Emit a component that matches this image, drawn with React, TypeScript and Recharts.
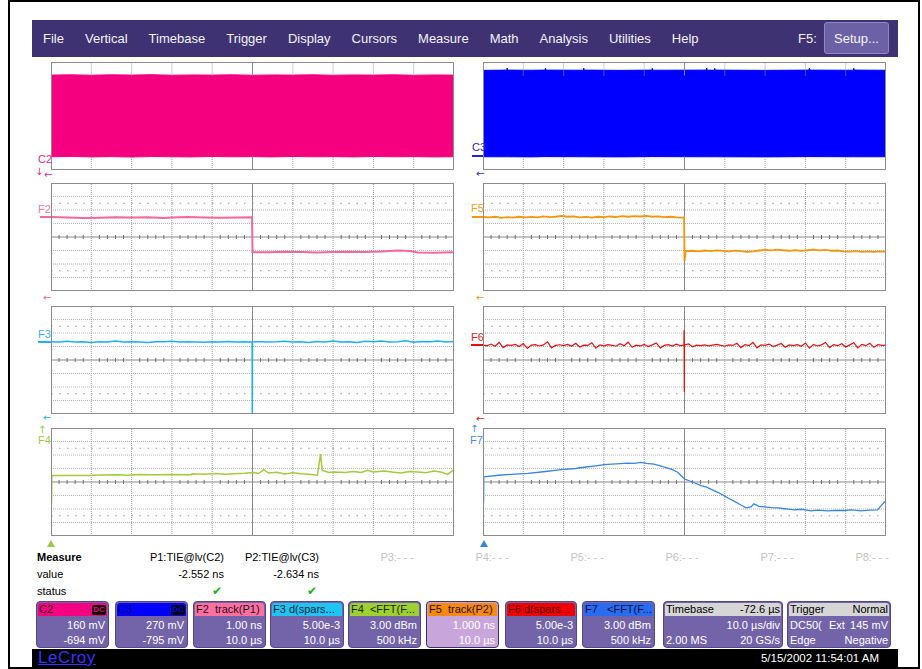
import React from 'react';
import { ComposedChart, Line, Area, XAxis, YAxis, ReferenceLine } from 'recharts';

const FONT = '"Liberation Sans", Arial, Helvetica, sans-serif';
const PW = 403;
const PH = 108;

// ---------------- data (x in divisions 0..10, y in divisions -4..4) ----------------
const C2_BAND: number[][] = [
  [0, -3.02, 3.03], [0.5, -3.0, 3.05], [1, -3.03, 3.02], [1.5, -3.01, 3.05], [2, -3.04, 3.03],
  [2.5, -3.0, 3.06], [3, -3.02, 3.02], [3.5, -3.03, 3.04], [4, -3.0, 3.03], [4.5, -3.02, 3.05],
  [5, -3.01, 3.02], [5.5, -3.03, 3.04], [6, -3.0, 3.03], [6.5, -3.02, 3.05], [7, -3.01, 3.02],
  [7.5, -3.03, 3.04], [8, -3.0, 3.03], [8.5, -3.02, 3.05], [9, -3.01, 3.02], [9.5, -3.03, 3.04],
  [10, -3.02, 3.03],
];
const C3_BAND: number[][] = [
  [0, -3.02, 3.38], [0.59, -3.02, 3.4], [0.6, -3.02, 3.55], [0.61, -3.02, 3.4], [1.2, -3.03, 3.39],
  [1.54, -3.01, 3.4], [1.55, -3.01, 3.54], [1.56, -3.01, 3.4], [2.49, -3.02, 3.39], [2.5, -3.02, 3.55],
  [2.51, -3.02, 3.4], [3.4, -3.03, 3.38], [4.19, -3.01, 3.4], [4.2, -3.01, 3.54], [4.21, -3.01, 3.39],
  [5.54, -3.02, 3.4], [5.55, -3.02, 3.55], [5.56, -3.02, 3.4], [5.74, -3.02, 3.39], [5.75, -3.02, 3.54],
  [5.76, -3.02, 3.4], [7.0, -3.03, 3.38], [8.09, -3.01, 3.4], [8.1, -3.01, 3.55], [8.11, -3.01, 3.4],
  [9.19, -3.02, 3.39], [9.2, -3.02, 3.54], [9.21, -3.02, 3.4], [10, -3.02, 3.39],
];
const F2_TRACE: number[][] = [
  [0, 1.48], [0.4, 1.44], [0.8, 1.4], [1.2, 1.43], [1.6, 1.46], [2.0, 1.44], [2.4, 1.46], [2.8, 1.41],
  [3.0, 1.45], [3.4, 1.48], [3.8, 1.45], [4.2, 1.43], [4.6, 1.45], [4.99, 1.46], [5.0, -1.12],
  [5.4, -1.13], [5.8, -1.1], [6.2, -1.12], [6.6, -1.14], [7.0, -1.11], [7.4, -1.09], [7.8, -1.12],
  [8.2, -1.07], [8.6, -1.0], [8.9, -1.03], [9.1, -1.15], [9.5, -1.17], [10, -1.13],
];
const F5_TRACE: number[][] = [
  [0, 1.48], [0.15, 1.45], [0.3, 1.5], [0.45, 1.42], [0.6, 1.47], [0.75, 1.44], [0.9, 1.5], [1.05, 1.45],
  [1.2, 1.49], [1.35, 1.46], [1.5, 1.52], [1.65, 1.47], [1.8, 1.5], [1.95, 1.56], [2.1, 1.5], [2.25, 1.53],
  [2.4, 1.46], [2.55, 1.49], [2.7, 1.44], [2.85, 1.5], [3.0, 1.47], [3.15, 1.52], [3.3, 1.48], [3.45, 1.54],
  [3.6, 1.5], [3.75, 1.55], [3.9, 1.52], [4.05, 1.56], [4.2, 1.5], [4.35, 1.53], [4.5, 1.47], [4.65, 1.5],
  [4.8, 1.45], [4.95, 1.43], [4.99, 1.45], [5.0, -1.78], [5.03, -1.05], [5.2, -1.02], [5.35, -1.06],
  [5.5, -1.0], [5.65, -1.04], [5.8, -0.99], [5.95, -1.03], [6.1, -1.07], [6.25, -1.01], [6.4, -1.05],
  [6.55, -1.1], [6.7, -1.06], [6.85, -1.0], [7.0, -0.95], [7.15, -0.99], [7.3, -0.93], [7.45, -0.98],
  [7.6, -1.02], [7.75, -0.97], [7.9, -1.03], [8.05, -0.98], [8.2, -0.94], [8.35, -0.99], [8.5, -0.96],
  [8.65, -1.02], [8.8, -1.0], [8.95, -1.06], [9.1, -1.09], [9.25, -1.05], [9.4, -1.1], [9.55, -1.07],
  [9.7, -1.1], [9.85, -1.06], [10, -1.08],
];
const F3_SAMPLES = [
  1.36, 1.34, 1.38, 1.33, 1.35, 1.30, 1.36, 1.34, 1.40, 1.33,
  1.35, 1.34, 1.29, 1.36, 1.35, 1.38, 1.33, 1.35, 1.34, 1.31,
  1.36, 1.34, 1.37, 1.33, 1.35, 1.34,
  1.36, 1.33, 1.35, 1.39, 1.34, 1.36, 1.30, 1.37, 1.34, 1.41,
  1.33, 1.36, 1.29, 1.38, 1.35, 1.40, 1.33, 1.36, 1.42, 1.32,
  1.37, 1.35, 1.40, 1.33, 1.37,
];
const F3_SPIKE: number[][] = [[4.99, 1.34], [4.995, -3.92]];
const F6_SAMPLES = [
  1.10, 1.05, 1.18, 1.02, 1.30, 0.92, 1.12, 1.08, 1.15, 1.00,
  1.22, 0.86, 1.10, 1.14, 1.04, 1.12, 1.35, 0.90, 1.08, 1.13,
  1.06, 1.16, 1.02, 1.24, 0.96, 1.10, 1.08, 1.28, 0.88, 1.12,
  1.05, 1.14, 1.09, 1.02, 1.20, 1.06, 1.32, 0.94, 1.10, 1.04,
  1.16, 1.00, 1.12, 1.26, 0.90, 1.08, 1.14, 1.03, 1.18, 1.06,
  1.12, 1.20, 0.98, 1.10, 1.06, 1.12, 1.04, 1.10, 1.16, 1.08,
  1.02, 1.12, 1.08, 1.24, 0.92, 1.14, 1.06, 1.30, 0.90, 1.12,
  1.08, 1.18, 1.00, 1.10, 1.22, 0.94, 1.12, 1.06, 1.14, 1.02,
  1.26, 0.88, 1.16, 1.04, 1.12, 1.30, 0.92, 1.14, 1.06, 1.20,
  0.96, 1.12, 1.28, 0.90, 1.16, 1.06, 1.24, 0.94, 1.14, 1.08, 1.10,
];
const F6_SPIKE: number[][] = [[4.985, 1.1], [4.99, 2.22], [4.995, -2.35]];
const F4_TRACE: number[][] = [
  [0.015, -1.6], [0.02, 0.49], [0.5, 0.48], [0.97, 0.49], [1.2, 0.52], [1.63, 0.54], [1.9, 0.5], [2.21, 0.55],
  [2.6, 0.53], [3.0, 0.56], [3.49, 0.54], [3.5, 0.61], [3.8, 0.58], [4.1, 0.63], [4.3, 0.57], [4.54, 0.61],
  [4.8, 0.64], [5.03, 0.71], [5.15, 0.63], [5.28, 0.91], [5.4, 0.66], [5.6, 0.72], [5.8, 0.6], [6.0, 0.68],
  [6.2, 0.62], [6.4, 0.58], [6.61, 0.5], [6.69, 2.09], [6.73, 0.86], [6.9, 0.7], [7.02, 0.74], [7.3, 0.71],
  [7.5, 0.78], [7.7, 0.7], [7.85, 0.86], [8.0, 0.75], [8.27, 0.81], [8.5, 0.72], [8.68, 0.66], [8.9, 0.78],
  [9.1, 0.74], [9.3, 0.69], [9.51, 0.81], [9.7, 0.72], [9.84, 0.56], [9.97, 0.86], [10, 0.8],
];
const F7_TRACE: number[][] = [
  [0.015, -1.6], [0.02, 0.39], [0.45, 0.52], [0.8, 0.58], [1.11, 0.64], [1.5, 0.76], [1.94, 0.91], [2.3, 1.0],
  [2.6, 1.13], [2.8, 1.2], [3.0, 1.28], [3.3, 1.35], [3.59, 1.4], [3.75, 1.38], [3.92, 1.45], [4.05, 1.38],
  [4.24, 1.33], [4.4, 1.2], [4.58, 1.03], [4.7, 0.92], [4.83, 0.72], [5.0, 0.22], [5.2, 0.0], [5.41, -0.27],
  [5.55, -0.38], [5.73, -0.64], [5.85, -0.8], [5.98, -1.01], [6.1, -1.22], [6.23, -1.42], [6.4, -1.7],
  [6.53, -1.92], [6.65, -1.85], [6.72, -1.62], [6.85, -1.8], [7.0, -1.85], [7.15, -1.9], [7.31, -1.92],
  [7.5, -1.98], [7.72, -2.07], [7.9, -2.02], [8.14, -2.14], [8.3, -2.08], [8.55, -2.14], [8.75, -2.1],
  [8.96, -2.11], [9.15, -2.06], [9.38, -2.14], [9.6, -2.08], [9.79, -2.07], [9.96, -1.48], [9.985, -1.5],
];

const MENU_ITEMS = ['File', 'Vertical', 'Timebase', 'Trigger', 'Display', 'Cursors', 'Measure', 'Math', 'Analysis', 'Utilities', 'Help'];
const MEAS_NAMES = ['P1:TIE@lv(C2)', 'P2:TIE@lv(C3)', 'P3:- - -', 'P4:- - -', 'P5:- - -', 'P6:- - -', 'P7:- - -', 'P8:- - -'];
const MEAS_VALUES = ['-2.552 ns', '-2.634 ns', '', '', '', '', '', ''];
const MEAS_OK = [true, true, false, false, false, false, false, false];

const CH_TITLES = ['C2', 'C3', 'F2  track(P1)', 'F3 d(spars...', 'F4  <FFT(F...', 'F5  track(P2)', 'F6 d(spars...', 'F7   <FFT(F...'];
const CH_ROW1 = ['160 mV', '270 mV', '1.00 ns', '5.00e-3', '3.00 dBm', '1.000 ns', '5.00e-3', '3.00 dBm'];
const CH_ROW2 = ['-694 mV', '-795 mV', '10.0 µs', '10.0 µs', '500 kHz', '10.0 µs', '10.0 µs', '500 kHz'];

// ---------------- helpers ----------------
const pairs = (p: number[][]) => p.map(([x, y]) => ({ x, y }));
const bands = (p: number[][]) => p.map(([x, lo, hi]) => ({ x, band: [lo, hi] }));
const sampled = (vals: number[], step: number) => vals.map((y, i) => ({ x: Math.round(i * step * 1000) / 1000, y }));
const merge = (a: any[], b: any[]) => [...a, ...b].sort((p, q) => p.x - q.x);

const DIV_X = [1, 2, 3, 4, 6, 7, 8, 9];
const DIV_Y = [-3, -2, -1, 1, 2, 3];

function fullGrid() {
  const els: any[] = [];
  DIV_Y.forEach((y) => els.push(<ReferenceLine key={'h' + y} y={y} stroke="#b2b2b2" strokeDasharray="1 1" />));
  [-2.5, 2.5].forEach((y) => els.push(<ReferenceLine key={'s' + y} y={y} stroke="#9a9a9a" strokeDasharray="1.5 6.54" />));
  DIV_X.forEach((x) => els.push(<ReferenceLine key={'v' + x} x={x} stroke="#9e9e9e" strokeDasharray="1 1" />));
  els.push(<ReferenceLine key="cx" x={5} stroke="#8a8a8a" />);
  els.push(<ReferenceLine key="cy" y={0} stroke="#8a8a8a" />);
  for (let k = 1; k < 50; k++) {
    if (k % 5 === 0) continue;
    const x = k / 5;
    els.push(<ReferenceLine key={'t' + k} segment={[{ x, y: -0.15 }, { x, y: 0.15 }]} stroke="#6e6e6e" />);
  }
  return els;
}

function stripGrid() {
  const els: any[] = [];
  DIV_X.forEach((x) => {
    els.push(<ReferenceLine key={'a' + x} segment={[{ x, y: 3 }, { x, y: 4 }]} stroke="#9e9e9e" strokeDasharray="1 1" />);
    els.push(<ReferenceLine key={'b' + x} segment={[{ x, y: -4 }, { x, y: -3 }]} stroke="#9e9e9e" strokeDasharray="1 1" />);
  });
  els.push(<ReferenceLine key="ca" segment={[{ x: 5, y: 3 }, { x: 5, y: 4 }]} stroke="#8a8a8a" />);
  els.push(<ReferenceLine key="cb" segment={[{ x: 5, y: -4 }, { x: 5, y: -3 }]} stroke="#8a8a8a" />);
  return els;
}

type S = { rows: any[]; color: string; width?: number; band?: boolean };

function Panel({ left, top, series, full }: { left: number; top: number; series: S[]; full: boolean }) {
  return (
    <div style={{ position: 'absolute', left, top, width: PW, height: PH }}>
      <ComposedChart width={PW} height={PH} margin={{ top: 0, right: 0, bottom: 0, left: 0 }}>
        <XAxis type="number" dataKey="x" domain={[0, 10]} hide allowDataOverflow />
        <YAxis type="number" domain={[-4, 4]} hide allowDataOverflow />
        {full ? fullGrid() : stripGrid()}
        {series.map((s, i) =>
          s.band ? (
            <Area key={i} data={s.rows} dataKey="band" type="linear" stroke={s.color} strokeWidth={1}
              fill={s.color} fillOpacity={1} dot={false} activeDot={false} isAnimationActive={false} />
          ) : (
            <Line key={i} data={s.rows} dataKey="y" type="linear" stroke={s.color} strokeWidth={s.width ?? 1.5}
              dot={false} activeDot={false} isAnimationActive={false} />
          )
        )}
      </ComposedChart>
      <div style={{ position: 'absolute', left: 0, top: 0, width: PW, height: PH, border: '1px solid #8c8c8c', boxSizing: 'border-box', pointerEvents: 'none' }} />
    </div>
  );
}

function T({ x, yc, children, color = '#000', size = 11, bold = false, right = false }: any) {
  const h = Math.round(size * 1.25);
  const style: any = {
    position: 'absolute', top: yc - h / 2, height: h, lineHeight: h + 'px', fontSize: size, color,
    fontWeight: bold ? 'bold' : 'normal', whiteSpace: 'nowrap',
  };
  if (right) { style.left = x - 300; style.width = 300; style.textAlign = 'right'; } else { style.left = x; }
  return <div style={style}>{children}</div>;
}

// tight trace label (box hugs the glyphs)
const Tag = ({ x, yc, color, children }: any) => (
  <div style={{ position: 'absolute', left: x, top: yc - 4.5, height: 9, lineHeight: '9px', fontSize: 11, color, whiteSpace: 'nowrap' }}>{children}</div>
);
const Arrow = ({ x, yc, color, ch }: any) => (
  <div style={{ position: 'absolute', left: x, top: yc - 4, height: 8, lineHeight: '8px', fontSize: 10, color, fontFamily: '"DejaVu Sans", sans-serif' }}>{ch}</div>
);
const Mark = ({ x, y, w, color }: any) => (
  <div style={{ position: 'absolute', left: x, top: y, width: w, height: 2, background: color }} />
);
const Tri = ({ cx, top, color }: any) => (
  <div style={{ position: 'absolute', left: cx - 4, top, width: 0, height: 0, borderLeft: '4px solid transparent', borderRight: '4px solid transparent', borderBottom: '7px solid ' + color }} />
);

const BOX_L = [36, 115, 193, 270, 348, 426, 505, 582];
const BOX_W = [73, 73, 73, 74, 73, 73, 72, 73];
const BOX_HEAD = ['#f5007f', '#0000ff', '#ff70a0', '#1ec4f2', '#9ed030', '#f68a10', '#f20000', '#2a6cf0'];
const BOX_TCOL = ['#2a0018', '#000070', '#1a1020', '#0a1a30', '#1a2a00', '#2a1000', '#500000', '#001040'];
const BODY = '#7364aa';

function Box({ l, w, head, children, title, selected = false }: any) {
  return (
    <div style={{ position: 'absolute', left: l, top: 601, width: w, height: 47, background: selected ? '#c8a6dc' : BODY, border: '1px solid ' + (selected ? '#3c3064' : '#54468e'), borderRadius: 4, boxSizing: 'border-box', overflow: 'hidden' }}>
      <div style={{ position: 'absolute', left: 1, top: 1, right: 1, height: 13, background: head, borderRadius: '3px 3px 0 0' }} />
      {title}
      {children}
    </div>
  );
}

export default function App() {
  const f3 = merge(sampled(F3_SAMPLES, 0.2), pairs(F3_SPIKE));
  const f6 = merge(sampled(F6_SAMPLES, 0.1), pairs(F6_SPIKE));
  const LX = 51, RX = 483;
  const R = [62, 183, 306, 428];
  return (
    <div style={{ position: 'absolute', left: 0, top: 0, width: 922, height: 669, background: '#fff', fontFamily: FONT, overflow: 'hidden' }}>
      <div style={{ position: 'absolute', left: 8, top: 0, width: 912, height: 669, border: '2px solid #000', boxSizing: 'border-box' }} />

      {/* menu bar */}
      <div style={{ position: 'absolute', left: 32, top: 20, width: 866, height: 37, background: '#3f3273' }} />
      <div style={{ position: 'absolute', left: 43, top: 20, height: 37, display: 'flex', alignItems: 'center', gap: 21, color: '#f2f2f6', fontSize: 13 }}>
        {MENU_ITEMS.map((m) => <span key={m}>{m}</span>)}
      </div>
      <T x={798} yc={39} color="#f2f2f6" size={13}>F5:</T>
      <div style={{ position: 'absolute', left: 824, top: 22, width: 65, height: 32, background: '#6d61a5', border: '1px solid #8f86c4', borderRadius: 3, boxSizing: 'border-box', color: '#f4f4f8', fontSize: 13, display: 'flex', alignItems: 'center', justifyContent: 'center' }}>Setup...</div>

      {/* panels */}
      <Panel left={LX} top={R[0]} full={false} series={[{ rows: bands(C2_BAND), color: '#f5007f', band: true }]} />
      <Panel left={RX} top={R[0]} full={false} series={[{ rows: bands(C3_BAND), color: '#0000ff', band: true }]} />
      <Panel left={LX} top={R[1]} full series={[{ rows: pairs(F2_TRACE), color: '#f2689a', width: 2 }]} />
      <Panel left={RX} top={R[1]} full series={[{ rows: pairs(F5_TRACE), color: '#f5960e', width: 1.8 }]} />
      <Panel left={LX} top={R[2]} full series={[{ rows: f3, color: '#1cb2ee', width: 1.5 }]} />
      <Panel left={RX} top={R[2]} full series={[{ rows: f6, color: '#e41010', width: 1.2 }]} />
      <Panel left={LX} top={R[3]} full series={[{ rows: pairs(F4_TRACE), color: '#a6ca3c', width: 1.5 }]} />
      <Panel left={RX} top={R[3]} full series={[{ rows: pairs(F7_TRACE), color: '#3a84e6', width: 1.3 }]} />

      {/* trace labels and markers */}
      <Tag x={38} yc={159.5} color="#e0288f">C2</Tag>
      <Arrow x={35} yc={171.5} color="#e0288f" ch="↓" />
      <Arrow x={44} yc={175} color="#e0288f" ch="←" />
      <Tag x={472} yc={147.5} color="#2222e0">C3</Tag>
      <Mark x={472} y={155} w={11} color="#2222e0" />
      <Arrow x={476} yc={174} color="#2222e0" ch="←" />

      <Tag x={38} yc={209.5} color="#f07aa2">F2</Tag>
      <Mark x={40} y={216} w={11} color="#f2689a" />
      <Arrow x={43} yc={297.5} color="#f2689a" ch="←" />
      <Tag x={471} yc={208.5} color="#f0a020">F5</Tag>
      <Mark x={472} y={216} w={11} color="#f5960e" />
      <Arrow x={476} yc={297.5} color="#f5960e" ch="←" />

      <Tag x={38} yc={334.5} color="#38b0e8">F3</Tag>
      <Mark x={38} y={341} w={13} color="#1cb2ee" />
      <Arrow x={43} yc={418} color="#1cb2ee" ch="←" />
      <Tag x={471} yc={337} color="#e02020">F6</Tag>
      <Mark x={471} y={344} w={12} color="#e41010" />
      <Arrow x={476} yc={419} color="#e41010" ch="←" />

      <Arrow x={38} yc={429.5} color="#a0c848" ch="↑" />
      <Tag x={38} yc={440.5} color="#a0c848">F4</Tag>
      <Arrow x={470} yc={429} color="#4a8ae0" ch="↑" />
      <Tag x={470} yc={440.5} color="#4a8ae0">F7</Tag>
      <Tri cx={51} top={540} color="#a0c848" />
      <Tri cx={483.5} top={540} color="#3a84e6" />

      {/* measure table */}
      <T x={37} yc={557} bold>Measure</T>
      <T x={37} yc={574.3}>value</T>
      <T x={37} yc={591}>status</T>
      {MEAS_NAMES.map((n, k) => (
        <T key={n} x={224 + 95 * k} yc={557} right color={MEAS_VALUES[k] ? '#000' : '#c4c4c4'}>{n}</T>
      ))}
      {MEAS_VALUES.map((v, k) => (v ? <T key={'v' + k} x={224 + 95 * k} yc={574.3} right>{v}</T> : null))}
      {MEAS_OK.map((ok, k) => (ok ? (
        <div key={'ok' + k} style={{ position: 'absolute', left: 212 + 95 * k, top: 584, fontSize: 12, lineHeight: '14px', color: '#22b022', fontFamily: '"DejaVu Sans", sans-serif' }}>✔</div>
      ) : null))}

      {/* channel descriptor boxes */}
      {CH_TITLES.map((t, i) => (
        <Box key={t} l={BOX_L[i]} w={BOX_W[i]} head={BOX_HEAD[i]} selected={i === 5}
          title={
            <>
              <div style={{ position: 'absolute', left: 2, top: 1, height: 13, lineHeight: '13px', fontSize: 11, color: BOX_TCOL[i], whiteSpace: 'pre' }}>{t}</div>
              {i < 2 ? (
                <div style={{ position: 'absolute', right: 2, top: 3, width: 14, height: 10, background: '#000', borderRadius: 2, color: BOX_HEAD[i], fontSize: 8, fontWeight: 'bold', lineHeight: '10px', textAlign: 'center' }}>DC</div>
              ) : null}
            </>
          }>
          <div style={{ position: 'absolute', right: 3, top: 16, lineHeight: '14px', fontSize: 11, color: '#fff' }}>{CH_ROW1[i]}</div>
          <div style={{ position: 'absolute', right: 3, top: 31, lineHeight: '14px', fontSize: 11, color: '#fff' }}>{CH_ROW2[i]}</div>
        </Box>
      ))}
      <Box l={663} w={120} head="#d6d6d6" title={
        <>
          <div style={{ position: 'absolute', left: 2, top: 1, lineHeight: '13px', fontSize: 11 }}>Timebase</div>
          <div style={{ position: 'absolute', right: 2, top: 1, lineHeight: '13px', fontSize: 11 }}>-72.6 µs</div>
        </>
      }>
        <div style={{ position: 'absolute', right: 2, top: 16, lineHeight: '14px', fontSize: 11, color: '#fff' }}>10.0 µs/div</div>
        <div style={{ position: 'absolute', left: 2, top: 31, lineHeight: '14px', fontSize: 11, color: '#fff' }}>2.00 MS</div>
        <div style={{ position: 'absolute', right: 2, top: 31, lineHeight: '14px', fontSize: 11, color: '#fff' }}>20 GS/s</div>
      </Box>
      <Box l={787} w={104} head="#d6d6d6" title={
        <>
          <div style={{ position: 'absolute', left: 2, top: 1, lineHeight: '13px', fontSize: 11 }}>Trigger</div>
          <div style={{ position: 'absolute', right: 2, top: 1, lineHeight: '13px', fontSize: 11 }}>Normal</div>
        </>
      }>
        <div style={{ position: 'absolute', left: 2, top: 16, lineHeight: '14px', fontSize: 11, color: '#fff' }}>DC50(</div>
        <div style={{ position: 'absolute', left: 41, top: 16, lineHeight: '14px', fontSize: 11, color: '#fff' }}>Ext</div>
        <div style={{ position: 'absolute', right: 2, top: 16, lineHeight: '14px', fontSize: 11, color: '#fff' }}>145 mV</div>
        <div style={{ position: 'absolute', left: 2, top: 31, lineHeight: '14px', fontSize: 11, color: '#fff' }}>Edge</div>
        <div style={{ position: 'absolute', right: 2, top: 31, lineHeight: '14px', fontSize: 11, color: '#fff' }}>Negative</div>
      </Box>

      {/* bottom bar */}
      <div style={{ position: 'absolute', left: 32, top: 649, width: 866, height: 20, background: '#000' }} />
      <div style={{ position: 'absolute', left: 38, top: 648, height: 20, lineHeight: '20px', fontSize: 17, color: '#3434ff', textDecoration: 'underline', letterSpacing: 0.5 }}>LeCroy</div>
      <T x={879} yc={658} right color="#fff" size={11.5}>5/15/2002 11:54:01 AM</T>
    </div>
  );
}
